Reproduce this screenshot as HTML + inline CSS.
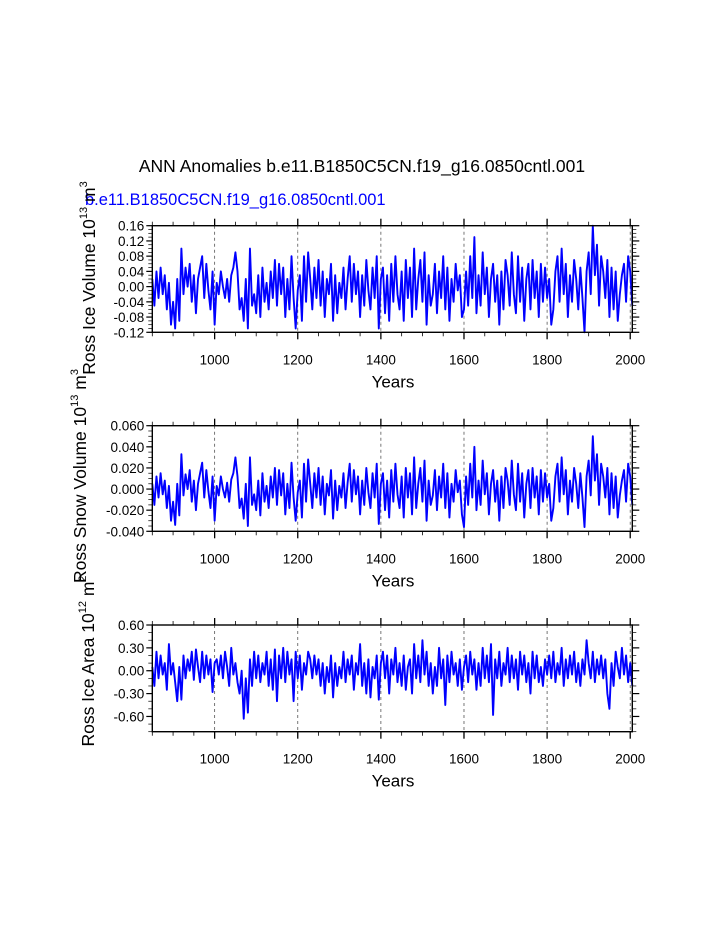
<!DOCTYPE html>
<html><head><meta charset="utf-8"><style>
html,body{margin:0;padding:0;background:#fff;}
svg{display:block;font-family:"Liberation Sans",Arial,sans-serif;}
</style></head><body>
<svg id="chart" width="723" height="935" viewBox="0 0 723 935" xmlns="http://www.w3.org/2000/svg">
<text x="362" y="172" font-size="17.5" text-anchor="middle">ANN Anomalies b.e11.B1850C5CN.f19_g16.0850cntl.001</text>
<text x="85" y="205" font-size="16.5" fill="#0000ff">b.e11.B1850C5CN.f19_g16.0850cntl.001</text>
</svg>
<script>
const startYear = 850, stepYears = 5;
const iceVolume = [2,-5,4,-3,5,-2,3,-6,1,-10,-4,-11,2,-9,10,-2,5,0,6,-4,3,-7,2,5,8,-3,6,-1,-6,4,-10,
1,-2,4,0,-3,2,-4,3,5,9,4,-6,-3,-9,2,-11,10,-5,-2,-7,3,-8,5,-4,1,-6,4,-3,7,-5,6,-2,5,-8,2,-6,8,-3,-11,-1,
3,-9,8,-4,9,2,-6,5,-3,7,-5,4,-8,2,-2,6,-9,3,-7,1,-3,5,-6,2,8,-4,6,-2,4,-8,3,-5,7,-1,-6,5,-3,8,-11,2,
5,-7,3,-9,6,-4,8,-2,-6,4,-9,7,-3,5,-8,10,-6,2,7,-4,9,-10,3,-5,-2,6,-7,4,-3,8,-6,5,-9,2,-4,6,-1,3,-8,-6,
4,-5,8,-3,13,-7,3,-5,9,-2,5,-8,2,6,-4,3,-10,4,-6,7,3,-5,9,-2,-7,8,-4,5,-9,2,6,-6,7,-3,4,-8,6,-4,5,-3,
2,-10,-6,4,8,-4,10,-2,6,-8,3,-4,7,2,-6,5,-3,-12,4,9,-2,16,3,11,-5,8,4,-3,7,-8,5,-6,4,-9,-2,3,6,-4,8,4,-5];
const snowVolume = [5,-15,12,-8,15,-5,8,-18,3,-30,-12,-34,5,-25,33,-6,14,0,18,-12,8,-20,5,15,25,-8,18,-2,-18,12,-30,
3,-6,12,0,-8,6,-12,9,15,30,12,-18,-9,-28,5,-35,30,-15,-5,-20,8,-25,15,-12,3,-18,12,-8,20,-15,18,-6,15,-24,5,-18,25,-8,-30,-3,
8,-27,24,-12,28,5,-18,15,-8,20,-15,12,-24,5,-6,18,-28,8,-20,3,-8,15,-18,6,24,-12,18,-5,12,-24,8,-15,20,-3,-18,15,-8,24,-33,5,
15,-20,8,-27,18,-12,24,-5,-18,12,-27,20,-8,15,-24,30,-18,5,20,-12,27,-30,8,-15,-6,18,-20,12,-8,24,-18,15,-27,5,-12,18,-3,8,-24,-36,
12,-15,24,-8,40,-20,8,-15,27,-5,15,-24,5,18,-12,8,-30,12,-18,20,8,-15,27,-5,-20,24,-12,15,-27,5,18,-18,20,-8,12,-24,18,-12,15,-8,
5,-30,-18,12,24,-12,30,-5,18,-24,8,-12,20,5,-18,15,-8,-36,12,27,-6,50,8,33,-15,24,12,-8,20,-24,15,-18,12,-27,-6,8,18,-12,24,12,-15];
const iceArea = [5,-20,25,-10,20,-5,10,-25,35,-5,10,-15,-40,5,-38,20,-10,15,0,25,-12,28,5,-15,25,-10,20,-5,15,-28,10,
15,-5,20,-10,25,5,-20,30,-5,10,-15,-30,0,-63,-10,-55,15,-20,25,-10,20,-15,10,-5,25,-20,15,-25,28,-40,20,-10,30,-15,25,-5,15,-40,25,-10,
20,-25,10,-5,25,15,-10,20,-5,15,-20,10,-30,5,-15,20,-35,10,-20,5,-10,25,-15,15,-5,20,-25,10,-5,35,-20,10,-30,15,-35,5,-10,20,-38,10,
25,-10,20,-30,15,-5,30,-15,10,-20,20,-25,5,15,-30,35,-10,20,-15,40,-5,25,-20,10,-30,5,-20,30,-10,15,-45,20,-15,25,-5,10,-20,15,-25,5,
20,-15,25,-5,15,-25,10,-20,30,-10,20,-15,35,-58,15,-10,25,-20,10,-5,30,-15,20,-10,15,-25,25,-5,20,-15,10,-30,25,-10,20,-15,5,-20,15,-5,
20,-10,25,-15,10,-5,30,-20,15,-10,20,-5,25,-15,10,-20,15,-5,40,10,-10,25,-15,15,-5,20,-10,15,-30,-50,10,-20,25,5,-10,30,-5,20,-15,10,-20];
const xTicks = [1000,1200,1400,1600,1800,2000];
const ticks1 = [-0.12,-0.08,-0.04,0,0.04,0.08,0.12,0.16];
const ticks2 = [-0.04,-0.02,0,0.02,0.04,0.06];
const ticks3 = [-0.6,-0.3,0,0.3,0.6];

const NS="http://www.w3.org/2000/svg";
const svg=document.getElementById('chart');
const X0=152.3, X1=632.3, Y0=850, Y1=2005;
function xs(yr){return X0+(yr-Y0)/(Y1-Y0)*(X1-X0);}
function mk(tag,attrs,parent){const e=document.createElementNS(NS,tag);for(const k in attrs)e.setAttribute(k,attrs[k]);(parent||svg).appendChild(e);return e;}

const panels=[
 {name:'ice-volume',top:225.7,bot:332.3,ymin:-0.12,ymax:0.16,ticks:ticks1,minor:0.01,dec:2,scale:0.01,data:iceVolume,
  title:['Ross Ice Volume 10','13',' m','3'],tx:95,ty:278},
 {name:'snow-volume',top:425.7,bot:531.3,ymin:-0.04,ymax:0.06,ticks:ticks2,minor:0.005,dec:3,scale:0.001,data:snowVolume,
  title:['Ross Snow Volume 10','13',' m','3'],tx:86,ty:476},
 {name:'ice-area',top:625,bot:731.7,ymin:-0.8,ymax:0.6,ticks:ticks3,minor:0.1,dec:2,scale:0.01,data:iceArea,
  title:['Ross Ice Area 10','12',' m','2'],tx:94,ty:661}
];
panels.forEach(p=>{
  const g=mk('g',{});
  
  
  const ys=v=>p.bot-(v-p.ymin)/(p.ymax-p.ymin)*(p.bot-p.top);
  xTicks.forEach(t=>{
    const l=mk('line',{x1:xs(t),x2:xs(t),y1:p.top,y2:p.bot,stroke:'#555','stroke-width':0.8,'stroke-dasharray':'3,3'},g);
    
    
  });
  let d='';
  p.data.forEach((v,i)=>{d+=(i?'L':'M')+xs(startYear+i*stepYears).toFixed(2)+','+ys(v*p.scale).toFixed(2);});
  const path=mk('path',{d:d,fill:'none',stroke:'#0000ff','stroke-width':1.9,'stroke-linejoin':'round'},g);
  
  
  const fr=mk('rect',{x:X0,y:p.top,width:X1-X0,height:p.bot-p.top,fill:'none',stroke:'#000','stroke-width':1.4},g);
  
  
  for(let yr=850;yr<=2000;yr+=50){
    const maj=yr%200===0, len=maj?7:4;
    mk('line',{x1:xs(yr),x2:xs(yr),y1:p.bot,y2:p.bot+len,stroke:'#000','stroke-width':maj?1.3:0.8},g);
    mk('line',{x1:xs(yr),x2:xs(yr),y1:p.top,y2:p.top-len,stroke:'#000','stroke-width':maj?1.3:0.8},g);
  }
  xTicks.forEach(t=>{
    const tx=mk('text',{x:xs(t),y:p.bot+32,'font-size':13.5,'text-anchor':'middle'},g);
    tx.textContent=t;
    
    
  });
  for(let v=p.ymin;v<=p.ymax+1e-9;v+=p.minor){
    mk('line',{x1:X0-4,x2:X0,y1:ys(v),y2:ys(v),stroke:'#000','stroke-width':0.7},g);
    mk('line',{x1:X1,x2:X1+4,y1:ys(v),y2:ys(v),stroke:'#000','stroke-width':0.7},g);
  }
  p.ticks.forEach(v=>{
    mk('line',{x1:X0-6,x2:X0,y1:ys(v),y2:ys(v),stroke:'#000','stroke-width':1.2},g);
    mk('line',{x1:X1,x2:X1+7,y1:ys(v),y2:ys(v),stroke:'#000','stroke-width':1.2},g);
    const tl=mk('text',{x:X0-8,y:ys(v)+5,'font-size':13.5,'text-anchor':'end'},g);
    tl.textContent=v.toFixed(p.dec);
    
    
  });
  const xt=mk('text',{x:393,y:p.bot+55,'font-size':17,'text-anchor':'middle'},g);
  xt.textContent='Years';
  
  
  const yt=mk('text',{x:0,y:0,'font-size':17.5,'text-anchor':'middle',transform:'translate('+p.tx+','+p.ty+') rotate(-90)'},g);
  
  
  const parts=p.title;
  let s=mk('tspan',{},yt);s.textContent=parts[0];
  s=mk('tspan',{'font-size':11,dy:-8},yt);s.textContent=parts[1];
  s=mk('tspan',{dy:8},yt);s.textContent=parts[2];
  s=mk('tspan',{'font-size':11,dy:-8},yt);s.textContent=parts[3];
});
</script>
</body></html>
